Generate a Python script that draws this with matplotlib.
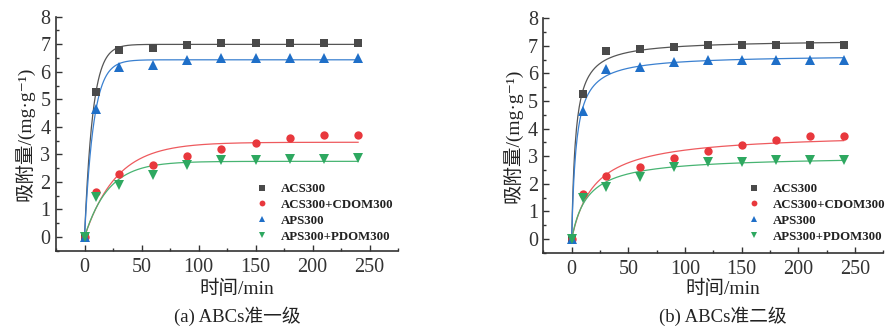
import numpy as np
import matplotlib
matplotlib.use("Agg")
import matplotlib.pyplot as plt
from matplotlib.ticker import MultipleLocator
from matplotlib.lines import Line2D

plt.rcParams['font.family'] = ['Liberation Serif', 'Noto Sans CJK SC', 'DejaVu Serif']

# ---- data ----
t = [0, 10, 30, 60, 90, 120, 150, 180, 210, 240]
acs300 = [0, 5.27, 6.80, 6.88, 6.97, 7.03, 7.03, 7.03, 7.03, 7.03]
acs300_cdom = [0, 1.63, 2.30, 2.62, 2.93, 3.20, 3.42, 3.58, 3.72, 3.72]
aps300 = [0, 4.65, 6.17, 6.25, 6.42, 6.50, 6.50, 6.50, 6.50, 6.50]
aps300_pdom = [0, 1.47, 1.90, 2.25, 2.60, 2.78, 2.80, 2.85, 2.85, 2.87]

labels = ['ACS300', 'ACS300+CDOM300', 'APS300', 'APS300+PDOM300']
series = [acs300, acs300_cdom, aps300, aps300_pdom]
marker_colors = ['#4a4a4a', '#e8383d', '#1f6fc8', '#2ea860']
line_colors = ['#555555', '#ee5a5e', '#3a80d0', '#47b472']
markers = ['s', 'o', '^', 'v']
msizes = [6, 6, 7, 7]

panel_titles = ['(a) ABCs准一级', '(b) ABCs准二级']


def pfo(x, qe, k):
    return qe * (1 - np.exp(-k * x))


def pso(x, qe, k):
    return qe * qe * k * x / (1 + qe * k * x)


def fit(model, x, y):
    x = np.asarray(x, float)
    y = np.asarray(y, float)
    best = None
    for qe in np.linspace(max(y) * 0.85, max(y) * 1.3, 181):
        for k in np.geomspace(1e-3, 2.0, 400):
            r = np.sum((model(x, qe, k) - y) ** 2)
            if best is None or r < best[0]:
                best = (r, qe, k)
    return best[1], best[2]


W, H = 885, 329
fig = plt.figure(figsize=(W / 100, H / 100), dpi=100)

axes_px = [  # left, top, right, bottom in pixels
    (56, 16.7, 398, 250.8),
    (543.4, 18.3, 883.3, 252.8),
]
label_x = [237, 723]
legend_px = [(256, 183), (748, 183)]

for pi, (model, (l, tp, r, b)) in enumerate(zip([pfo, pso], axes_px)):
    ax = fig.add_axes([l / W, 1 - b / H, (r - l) / W, (b - tp) / H])
    xs = np.linspace(0, 240, 400)
    for s, mc, lc, m, ms in zip(series, marker_colors, line_colors, markers, msizes):
        qe, k = fit(model, t, s)
        ax.plot(xs, model(xs, qe, k), color=lc, lw=0.9, zorder=2)
    for s, lab, mc, m, ms in zip(series, labels, marker_colors, markers, msizes):
        ax.plot(t, s, linestyle='none', marker=m, color=mc, markersize=ms,
                markeredgewidth=0, zorder=3, label=lab)
    ax.set_xlim(-25, 275)
    ax.set_ylim(-0.5, 8)
    ax.xaxis.set_major_locator(MultipleLocator(50))
    ax.xaxis.set_minor_locator(MultipleLocator(25))
    ax.yaxis.set_major_locator(MultipleLocator(1))
    ax.yaxis.set_minor_locator(MultipleLocator(0.5))
    ax.tick_params(which='both', direction='in', colors='#333333', labelsize=14.5,
                   width=1.0)
    ax.tick_params(which='major', length=4)
    ax.tick_params(which='minor', length=2.5)
    ax.tick_params(axis='x', pad=5)
    ax.tick_params(axis='y', pad=4)
    for sp in ['top', 'right']:
        ax.spines[sp].set_visible(False)
    for sp in ['left', 'bottom']:
        ax.spines[sp].set_color('#333333')
        ax.spines[sp].set_linewidth(1.2)
    ax.set_ylabel('吸附量/(mg·g⁻¹)', fontsize=14, color='#222222', labelpad=4)

    handles = [Line2D([], [], linestyle='none', marker=m, color=mc,
                      markersize=ms * 0.7, markeredgewidth=0)
               for mc, m, ms in zip(marker_colors, markers, msizes)]
    lx, ly = legend_px[pi]
    leg = ax.legend(handles, labels, loc='upper left', frameon=False,
                    bbox_to_anchor=(lx / W, 1 - ly / H), bbox_transform=fig.transFigure,
                    prop={'family': 'Liberation Serif', 'weight': 'bold', 'size': 9.3},
                    handlelength=1.0, handletextpad=0.9, labelspacing=0.3,
                    borderaxespad=0, borderpad=0)
    for txt in leg.get_texts():
        txt.set_color('#222222')

    fig.text(label_x[pi] / W, 1 - 289 / H, '时间/min', ha='center', va='center',
             fontsize=14, color='#222222')
    fig.text(label_x[pi] / W, 1 - 316 / H, panel_titles[pi], ha='center', va='center',
             fontsize=13.5, color='#222222')

fig.savefig('out.png', dpi=100)
